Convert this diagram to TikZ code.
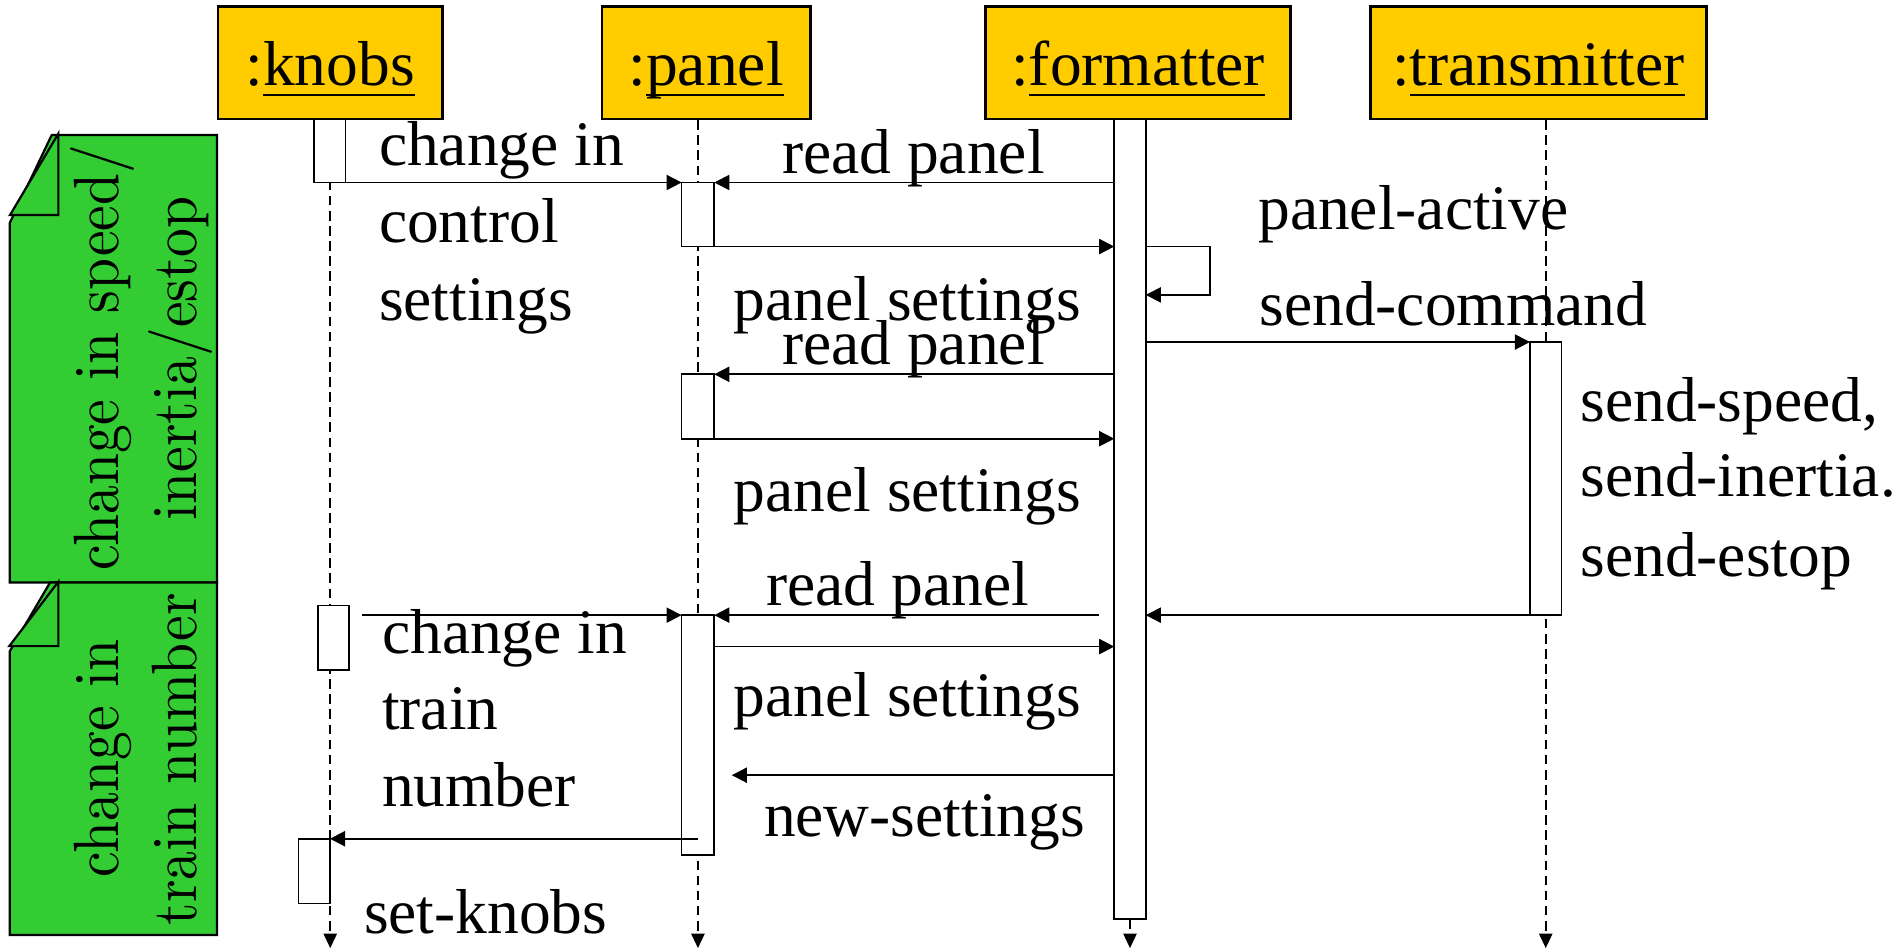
\documentclass[tikz,border=0pt]{standalone}
\usepackage{fontspec}
\setmainfont{Liberation Serif}
\newfontfamily\notefont{lmroman10-regular}[Extension=.otf,FakeStretch=0.9]
\usetikzlibrary{arrows.meta,backgrounds}
\definecolor{hdrY}{HTML}{FFCC00}
\definecolor{noteG}{HTML}{33CC33}
\newsavebox\ulbox
\newcommand\uln[1]{\sbox\ulbox{#1}\rlap{\rule[-8.8pt]{\wd\ulbox}{2pt}}\usebox\ulbox}
\begin{document}
\begin{tikzpicture}[x=1pt,y=-1pt,
 hdr/.style={draw,line width=2pt,fill=hdrY,inner sep=0pt,text height=38pt,text depth=0pt,font=\fontsize{52.5}{60}\selectfont},
 act/.style={draw,fill=white,line width=1.4pt,inner sep=0pt,outer sep=0pt},
 msg/.style={line width=1.5pt,-{Triangle[length=12.5pt,width=12.5pt]}},
 life/.style={line width=1.4pt,dash pattern=on 8pt off 4.5pt,-{Triangle[length=12pt,width=11pt]}},
 lbl/.style={anchor=base west,inner sep=0pt,font=\fontsize{52.5}{60}\selectfont},
 notebg/.style={draw,fill=noteG,line width=1.8pt,line join=miter},
 notetxt/.style={rotate=90,anchor=base,inner sep=0pt,font=\notefont\fontsize{53}{60}\selectfont}]

\useasboundingbox (0,0) rectangle (1568,785.2);

% headers
\node[hdr,minimum width=185.5pt,minimum height=93pt] (hK) at (273.25,52) {:\uln{knobs}};
\node[hdr,minimum width=172.5pt,minimum height=93pt] (hP) at (584.25,52) {:\uln{panel}};
\node[hdr,minimum width=252.3pt,minimum height=93pt] (hF) at (941.75,52) {:\uln{formatter}};
\node[hdr,minimum width=278pt,minimum height=93pt] (hT) at (1273,52) {:\uln{transmitter}};

% activations
\node[act,minimum width=26pt,minimum height=52.5pt] (aK1) at (273,124.75) {};
\node[act,minimum width=27pt,minimum height=53pt] (aP1) at (577.5,177.5) {};
\node[act,minimum width=27pt,minimum height=53.3pt] (aP2) at (577.5,336.35) {};
\node[act,minimum width=26pt,minimum height=662pt] (aF) at (935,429.5) {};
\node[act,minimum width=26pt,minimum height=226pt] (aT) at (1279,396) {};
\node[act,minimum width=26pt,minimum height=53.5pt] (aK2) at (276,527.75) {};
\node[act,minimum width=27pt,minimum height=198.5pt] (aP3) at (577.5,608.25) {};
\node[act,minimum width=26pt,minimum height=53.5pt] (aK3) at (260,720.75) {};

% lifelines
\coordinate (bot) at (0,784.5);
\begin{scope}[on background layer]
\draw[life] (hK.south) -- (hK.south |- bot);
\draw[life] (aP1.north |- hP.south) -- (aP1.north |- bot);
\draw[life] (aF.north) -- (aF.north |- bot);
\draw[life] (aT.north |- hT.south) -- (aT.north |- bot);
\end{scope}

% free ends
\coordinate (sl) at (1001.3,244);
\coordinate (r3) at (909,509);
\coordinate (c3) at (299.4,509);
\coordinate (m11) at (591,535);
\coordinate (ns) at (605.5,641.4);

% messages
\draw[msg] (aK1.south east) -- (aP1.north west);
\draw[msg] (aF.west |- aP1.north) -- (aP1.north east);
\draw[msg] (aP1.south east) -- (aF.west |- aP1.south);
\draw[msg] (aF.east |- aP1.south) -| (sl) -- (aF.east |- sl);
\draw[msg] (aF.east |- aT.north) -- (aT.north west);
\draw[msg] (aF.west |- aP2.north) -- (aP2.north east);
\draw[msg] (aP2.south east) -- (aF.west |- aP2.south);
\draw[msg] (aT.south west) -- (aF.east |- aT.south);
\draw[msg] (r3) -- (aP3.north east);
\draw[msg] (c3) -- (aP3.north west);
\draw[msg] (m11) -- (aF.west |- m11);
\draw[msg] (aF.west |- ns) -- (ns);
\draw[msg] (aP3.center |- aK3.north) -- (aK3.north east);

% labels
\node[lbl] (t1a) at (313.4,137) {change in};
\node[lbl] (t1b) at (313.4,201) {control};
\node[lbl] (t1c) at (313.4,265) {settings};
\node[lbl] (t2) at (647,143.4) {read panel};
\node[lbl] (t3) at (607,264.8) {panel settings};
\node[lbl] (t4) at (1041,190) {panel-active};
\node[lbl] (t5) at (1042,269) {send-command};
\node[lbl] (t6) at (647,302) {read panel};
\node[lbl] (t7) at (607,423.5) {panel settings};
\node[lbl] (t8a) at (1307.6,349) {send-speed,};
\node[lbl] (t8b) at (1307.6,411) {send-inertia.};
\node[lbl] (t8c) at (1307.6,477) {send-estop};
\node[lbl] (t9) at (634,500.7) {read panel};
\node[lbl] (t10a) at (316,540.7) {change in};
\node[lbl] (t10b) at (316,604) {train};
\node[lbl] (t10c) at (316,667.6) {number};
\node[lbl] (t11) at (607,593) {panel settings};
\node[lbl] (t12) at (632,692) {new-settings};
\node[lbl] (t13) at (301,772) {set-knobs};

% notes
\draw[notebg] (42.8,111.7) -- (179.5,111.7) -- (179.5,482) -- (8,482) -- (8,184.6) -- cycle;
\draw[notebg] (48.3,110.5) -- (48.3,177.9) -- (8.3,177.9) -- cycle;
\draw[notebg] (41.4,482) -- (179.5,482) -- (179.5,773.7) -- (8,773.7) -- (8,539) -- cycle;
\draw[notebg] (48.3,481.3) -- (48.3,534.6) -- (7.7,534.6) -- cycle;
\node[notetxt] (n1a) at (97.9,296) {change in speed/};
\node[notetxt] (n1b) at (162.7,296.5) {inertia/estop};
\node[notetxt] (n2a) at (97.9,627.5) {change in};
\node[notetxt] (n2b) at (162.7,628.2) {train number};
\end{tikzpicture}
\end{document}
